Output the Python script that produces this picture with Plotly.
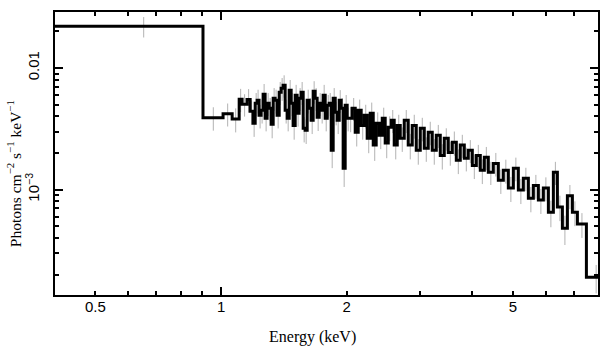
import numpy as np
import plotly.graph_objects as go

# Bin edges (keV)
energy_edges = [
    0.400, 0.905, 1.011, 1.063,
    1.105, 1.123, 1.154, 1.174,
    1.193, 1.207, 1.220, 1.233, 1.247, 1.261, 1.275, 1.289, 1.304, 1.318,
    1.333, 1.347, 1.362, 1.378, 1.393, 1.408, 1.424, 1.440, 1.456, 1.472,
    1.488, 1.505, 1.521, 1.538, 1.555, 1.573, 1.590, 1.608, 1.626, 1.644,
    1.662, 1.680, 1.699, 1.718, 1.737, 1.756, 1.776, 1.796, 1.816, 1.836,
    1.856, 1.877, 1.897, 1.919, 1.940, 1.961, 1.983, 2.005,
    2.027, 2.061, 2.096, 2.131,
    2.166, 2.203, 2.239, 2.277, 2.315, 2.353, 2.393, 2.433, 2.473, 2.515,
    2.557, 2.599, 2.643, 2.687, 2.747, 2.808, 2.871, 2.935, 3.001, 3.068,
    3.136, 3.206, 3.278, 3.351, 3.426, 3.502, 3.581, 3.661, 3.742, 3.826,
    3.911, 3.999, 4.088, 4.179, 4.273, 4.368, 4.490, 4.616, 4.745, 4.878,
    5.015, 5.155, 5.299, 5.448, 5.600, 5.757, 5.918, 6.084, 6.254, 6.394,
    6.573, 6.757, 6.946, 7.140, 7.504, 8.334,
]

# Unfolded flux per bin, in units of 1e-3 photons cm^-2 s^-1 keV^-1
flux_1e3 = [
    22.0, 3.9, 4.2, 3.8,
    5.53, 5.03, 5.5, 4.41,
    3.51, 5.12, 5.42, 4.08, 4.49, 6.08, 3.86, 5.12, 4.66, 3.44,
    5.63, 5.42, 4.08, 6.31, 6.81, 7.20, 4.49, 3.86, 6.56, 5.12,
    3.37, 5.96, 4.24, 5.63, 6.31, 3.19, 3.07, 5.42, 4.66, 3.71,
    6.43, 5.63, 3.93, 5.12, 4.49, 5.96, 3.86, 4.94, 5.12, 2.10,
    5.63, 4.32, 3.71, 5.42, 4.66, 1.50, 4.94, 3.86,
    3.86, 4.66, 2.96, 4.49,
    3.37, 4.08, 2.64, 4.24, 2.32, 3.51, 2.80, 3.86, 2.41, 3.25,
    3.71, 2.32, 3.37, 2.64, 3.71, 2.32, 3.37, 2.10, 3.19, 2.19,
    2.96, 2.10, 2.80, 1.91, 2.64, 2.02, 2.45, 1.74, 2.32, 1.81,
    2.10, 1.58, 1.91, 1.44, 1.84, 1.39, 1.64, 1.19, 1.44, 1.03,
    1.50, 0.99, 1.24, 0.85, 1.08, 0.82, 1.03, 0.65, 1.39, 0.72,
    0.48, 0.89, 0.65, 0.52, 0.19,
]

# 1-sigma errors, same units
flux_err_1e3 = [
    4.2, 0.85, 0.9, 0.85,
    1.2, 1.05, 1.2, 1.0,
    0.8, 1.1, 1.2, 0.9, 1.0, 1.3, 0.85, 1.1, 1.0, 0.8,
    1.2, 1.2, 0.9, 1.35, 1.45, 1.5, 1.0, 0.85, 1.4, 1.1,
    0.8, 1.3, 0.95, 1.2, 1.35, 0.75, 0.7, 1.2, 1.0, 0.85,
    1.35, 1.2, 0.9, 1.1, 1.0, 1.3, 0.85, 1.05, 1.1, 0.6,
    1.2, 0.95, 0.85, 1.15, 1.0, 0.45, 1.05, 0.85,
    0.9, 1.0, 0.7, 1.0,
    0.8, 0.9, 0.65, 0.95, 0.6, 0.8, 0.65, 0.85, 0.6, 0.75,
    0.8, 0.55, 0.75, 0.6, 0.8, 0.55, 0.75, 0.5, 0.7, 0.5,
    0.65, 0.5, 0.6, 0.45, 0.55, 0.45, 0.55, 0.4, 0.5, 0.4,
    0.45, 0.36, 0.42, 0.33, 0.4, 0.3, 0.36, 0.27, 0.32, 0.24,
    0.33, 0.23, 0.27, 0.2, 0.24, 0.19, 0.23, 0.16, 0.3, 0.17,
    0.13, 0.2, 0.15, 0.12, 0.05,
]

x_tick_vals = [0.5, 1, 2, 5]
x_tick_text = ["0.5", "1", "2", "5"]
x_minor_vals = [0.6, 0.7, 0.8, 0.9, 3, 4, 6, 7]
y_tick_vals = [0.001, 0.01]
y_tick_text = ["10<sup>−3</sup>", "0.01"]
y_minor_vals = [2e-4, 3e-4, 4e-4, 5e-4, 6e-4, 7e-4, 8e-4, 9e-4,
                2e-3, 3e-3, 4e-3, 5e-3, 6e-3, 7e-3, 8e-3, 9e-3, 2e-2]

assert len(energy_edges) == len(flux_1e3) + 1 == len(flux_err_1e3) + 1

edges = np.array(energy_edges)
flux = np.array(flux_1e3) * 1e-3
err = np.array(flux_err_1e3) * 1e-3
centers = 0.5 * (edges[:-1] + edges[1:])

fig = go.Figure()

# error bars (grey)
fig.add_trace(go.Scatter(
    x=centers, y=flux, mode="markers",
    marker=dict(size=1, color="rgba(0,0,0,0)"),
    error_y=dict(type="data", array=err, visible=True,
                 color="#b2b2b2", thickness=1, width=0),
    showlegend=False, hoverinfo="skip",
))

# stepped spectrum
fig.add_trace(go.Scatter(
    x=edges, y=np.append(flux, flux[-1]), mode="lines",
    line=dict(shape="hv", color="black", width=3),
    showlegend=False,
))

# helper trace for long major tick at 1 keV
fig.add_trace(go.Scatter(x=[None], y=[None], xaxis="x2", yaxis="y",
                         showlegend=False))

tick_font = dict(family="Liberation Sans, Arial, sans-serif", size=15, color="black")

fig.update_layout(
    width=609, height=357,
    margin=dict(l=55, r=11, t=12, b=62, autoexpand=False),
    paper_bgcolor="white", plot_bgcolor="white",
    xaxis=dict(
        type="log", range=[np.log10(0.4), np.log10(8.0)],
        tickvals=x_tick_vals, ticktext=x_tick_text,
        ticks="inside", ticklen=4, tickwidth=1.5, tickcolor="black",
        minor=dict(tickvals=x_minor_vals, ticks="inside", ticklen=4,
                   tickwidth=1.5, tickcolor="black", showgrid=False),
        showline=True, linecolor="black", linewidth=2, mirror="ticks",
        showgrid=False, zeroline=False, tickfont=tick_font,
        ticklabelstandoff=-3, automargin=False,
    ),
    xaxis2=dict(
        type="log", overlaying="x", matches="x", side="bottom",
        range=[np.log10(0.4), np.log10(8.0)],
        tickvals=[1], showticklabels=False,
        ticks="inside", ticklen=8, tickwidth=1.5, tickcolor="black",
        showline=False, mirror="ticks", showgrid=False, zeroline=False,
        automargin=False,
    ),
    yaxis=dict(
        type="log", range=[-3.867, -1.540],
        tickvals=y_tick_vals, ticktext=y_tick_text, tickangle=-90,
        ticks="inside", ticklen=8, tickwidth=1.5, tickcolor="black",
        minor=dict(tickvals=y_minor_vals, ticks="inside", ticklen=4,
                   tickwidth=1.5, tickcolor="black", showgrid=False),
        showline=True, linecolor="black", linewidth=2, mirror="ticks",
        showgrid=False, zeroline=False, tickfont=tick_font,
        ticklabelstandoff=8, automargin=False,
    ),
    annotations=[
        dict(text="Energy (keV)", xref="paper", yref="paper",
             x=0.475, y=-0.149, xanchor="center", yanchor="middle",
             showarrow=False,
             font=dict(family="Liberation Serif, Times New Roman, serif",
                       size=16, color="black")),
        dict(text="Photons cm<sup>−2</sup> s<sup>−1</sup> keV<sup>−1</sup>",
             xref="paper", yref="paper", x=-0.074, y=0.43,
             xanchor="center", yanchor="middle", textangle=-90,
             showarrow=False,
             font=dict(family="Liberation Serif, Times New Roman, serif",
                       size=15.5, color="black")),
    ],
)

fig.write_html(
    "out.html",
    config={"displayModeBar": False},
    post_script="document.body.style.margin='0';document.body.style.padding='0';",
)
